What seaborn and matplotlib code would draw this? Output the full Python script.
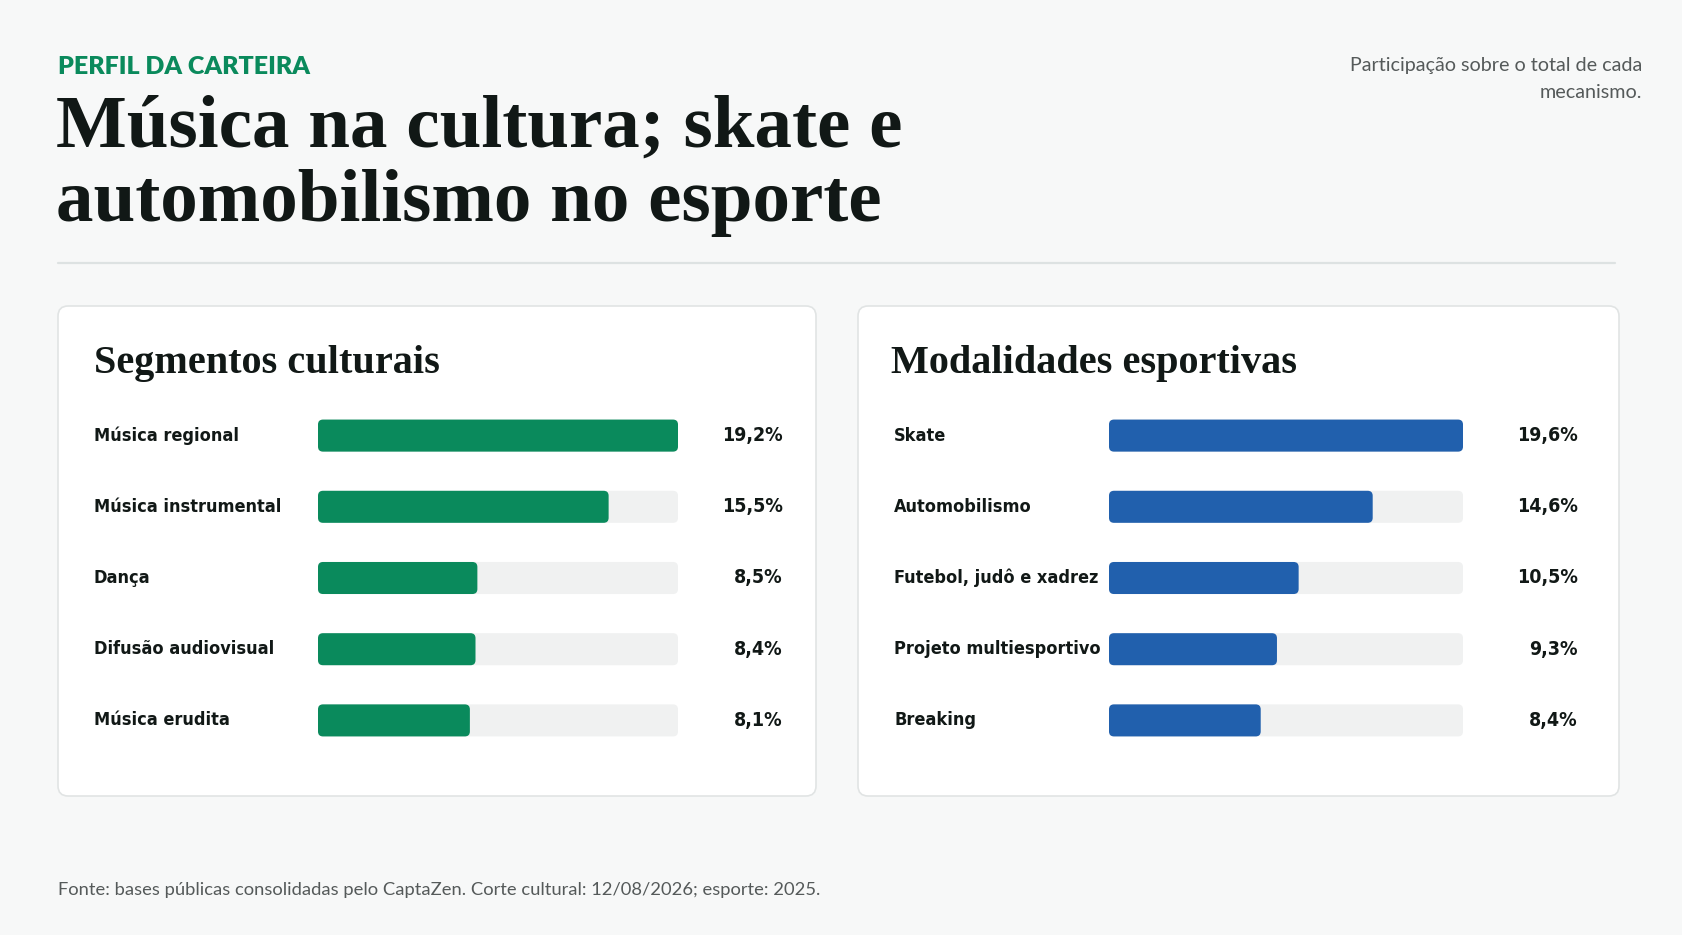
import matplotlib
matplotlib.use("Agg")
import matplotlib.pyplot as plt
import seaborn as sns
import pandas as pd
from matplotlib.patches import FancyBboxPatch
from matplotlib.transforms import blended_transform_factory

# data
cult_labels = ["Música regional", "Música instrumental", "Dança", "Difusão audiovisual", "Música erudita"]
cult_values = [19.2, 15.5, 8.5, 8.4, 8.1]
sport_labels = ["Skate", "Automobilismo", "Futebol, judô e xadrez", "Projeto multiesportivo", "Breaking"]
sport_values = [19.6, 14.6, 10.5, 9.3, 8.4]

W, H = 1683, 935
BG = "#f7f8f8"
GREEN = "#0a8a5c"
BLUE = "#2160ad"
TRACK = "#f0f1f1"
INK = "#111816"

sns.set_theme(style="white")
plt.rcParams["font.family"] = ["Lato", "DejaVu Sans"]

fig = plt.figure(figsize=(W / 100, H / 100), dpi=100)
fig.patch.set_facecolor(BG)


def fx(px):
    return px / W


def fy(py):
    return 1 - py / H


# header
fig.text(fx(58), fy(67), "PERFIL DA CARTEIRA", color=GREEN, fontsize=18,
         fontweight="heavy", va="center", ha="left")
fig.text(fx(56), fy(129), "Música na cultura; skate e", color=INK, fontsize=54,
         fontweight="bold", family=["Liberation Serif", "DejaVu Serif"], va="center")
fig.text(fx(56), fy(203), "automobilismo no esporte", color=INK, fontsize=54,
         fontweight="bold", family=["Liberation Serif", "DejaVu Serif"], va="center")
fig.text(fx(1642), fy(65), "Participação sobre o total de cada", color="#555a5a",
         fontsize=14.2, ha="right", va="center")
fig.text(fx(1642), fy(92), "mecanismo.", color="#555a5a", fontsize=14.2,
         ha="right", va="center")
fig.add_artist(plt.Line2D([fx(58), fx(1615)], [fy(263), fy(263)], color="#dde2e2", lw=1.6))

fig.text(fx(58), fy(890), "Fonte: bases públicas consolidadas pelo CaptaZen. Corte cultural: 12/08/2026; esporte: 2025.",
         color="#555a5a", fontsize=13.2, va="center")


def card(x0, x1, y0, y1):
    box = FancyBboxPatch((fx(x0), fy(y1)), fx(x1 - x0), (y1 - y0) / H,
                         boxstyle="round,pad=0,rounding_size=0.006",
                         mutation_aspect=W / H,
                         transform=fig.transFigure, facecolor="white",
                         edgecolor="#e1e4e4", lw=1.2, zorder=0)
    fig.add_artist(box)


LABEL_FONT = dict(family=["DejaVu Sans"], fontstretch="condensed", fontweight="bold")


def panel(title, labels, values, color, card_x, bar_x, val_x, title_x):
    card(card_x[0], card_x[1], 306, 796)
    fig.text(fx(title_x), fy(364), title, color=INK, fontsize=29,
             fontweight="bold", family=["Liberation Serif", "DejaVu Serif"], va="center")

    ax = fig.add_axes([fx(bar_x[0]), fy(756), fx(bar_x[1] - bar_x[0]), (756 - 400) / H])
    ax.set_facecolor("none")
    df = pd.DataFrame({"label": labels, "value": values, "track": max(values)})
    sns.barplot(data=df, x="track", y="label", color=TRACK, width=0.45, ax=ax,
                saturation=1, zorder=1)
    sns.barplot(data=df, x="value", y="label", color=color, width=0.45, ax=ax,
                saturation=1, zorder=2)
    ax.set_xlim(0, max(values))
    ax.set_ylim(len(labels) - 0.5, -0.5)

    # swap plain rectangles for rounded ones
    xpp = max(values) / (bar_x[1] - bar_x[0])
    ypp = len(labels) / 356
    for p in list(ax.patches):
        x, y, w, h = p.get_x(), p.get_y(), p.get_width(), p.get_height()
        rb = FancyBboxPatch((x, y), w, h,
                            boxstyle=f"round,pad=0,rounding_size={5 * xpp}",
                            mutation_aspect=ypp / xpp,
                            facecolor=p.get_facecolor(), edgecolor="none",
                            zorder=p.get_zorder())
        p.remove()
        ax.add_patch(rb)

    trans = blended_transform_factory(ax.transAxes, ax.transData)
    span = bar_x[1] - bar_x[0]
    for i, (lab, v) in enumerate(zip(labels, values)):
        ax.text((card_x[0] + 36 - bar_x[0]) / span, i, lab, transform=trans,
                ha="left", va="center", fontsize=13, color=INK, **LABEL_FONT)
        ax.text((val_x - bar_x[0]) / span, i, f"{v:.1f}%".replace(".", ","),
                transform=trans, ha="right", va="center", fontsize=14,
                color=INK, **LABEL_FONT)

    ax.set_xlabel("")
    ax.set_ylabel("")
    ax.set_xticks([])
    ax.set_yticks([])
    sns.despine(ax=ax, left=True, bottom=True)


panel("Segmentos culturais", cult_labels, cult_values, GREEN, (58, 816), (318, 678), 783, 94)
panel("Modalidades esportivas", sport_labels, sport_values, BLUE, (858, 1619), (1109, 1463), 1578, 891)

fig.savefig("out.png", dpi=100, facecolor=BG)
